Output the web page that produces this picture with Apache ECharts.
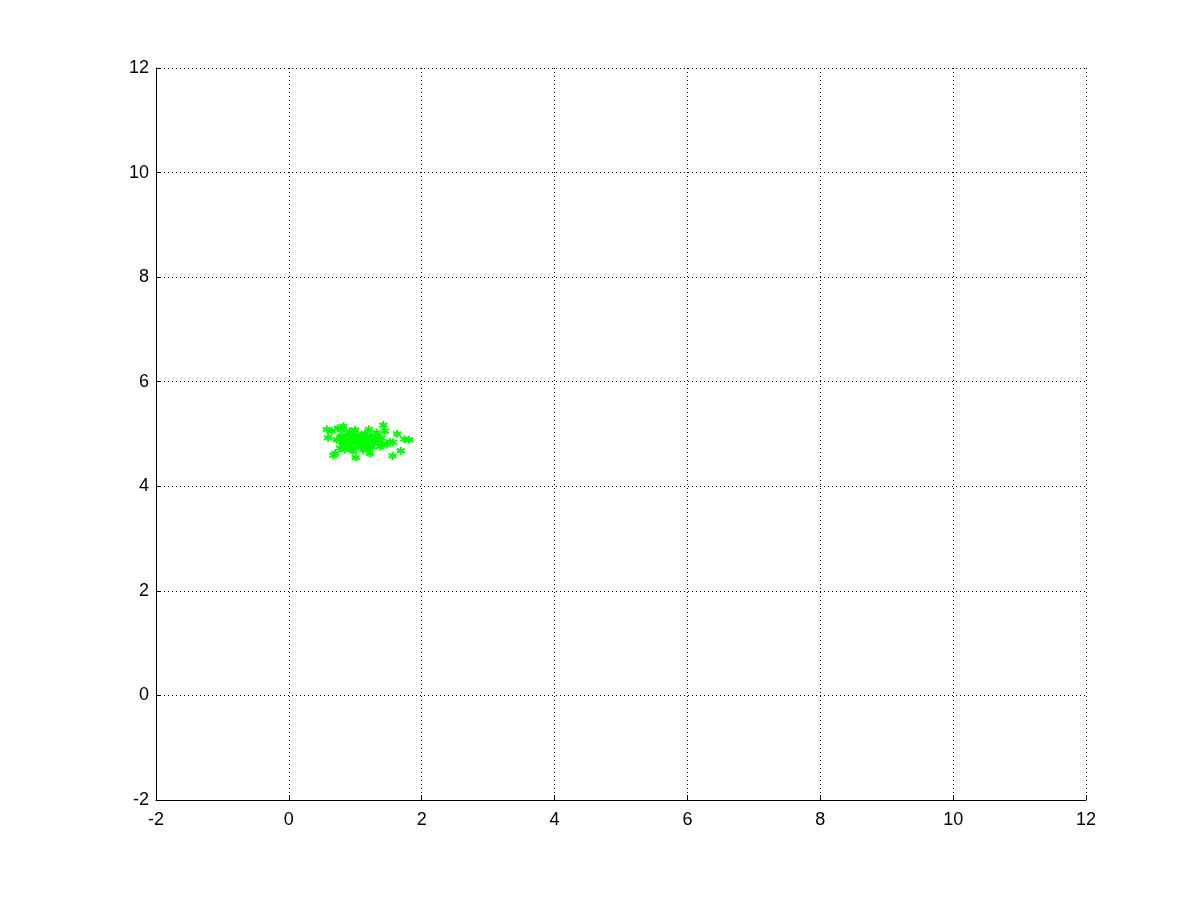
<!DOCTYPE html>
<html>
<head>
    <meta charset="utf-8"/>
    <title>ECharts</title>
    <script src="https://cdn.jsdelivr.net/npm/echarts@6/dist/echarts.min.js"></script>
</head>
<body style="margin:0;background:#fff">
<div id="main" style="width: 1200px; height: 900px;"></div>
<script type="text/javascript">
    // point coordinates
    var xs = [0.57, 0.645, 0.59, 0.735, 0.82, 0.795, 0.72, 0.67, 0.695, 0.77,
        0.87, 0.92, 0.995, 0.945, 0.895, 0.995, 1.005, 1.07, 1.095, 1.145,
        1.205, 1.12, 1.22, 1.195, 1.245, 1.32, 1.295, 1.37, 1.42, 1.445,
        1.395, 1.52, 1.57, 1.63, 1.685, 1.56, 1.74, 1.81,
        0.80, 0.85, 0.90, 0.96, 1.02, 1.08, 1.14, 1.18, 1.25, 1.30,
        0.83, 0.88, 0.93, 0.98, 1.04, 1.10, 1.16, 1.22, 1.28, 1.34,
        0.78, 0.86, 0.94, 1.00, 1.06, 1.12, 1.19, 1.26, 1.33, 1.40,
        0.92, 1.03, 1.15, 1.24, 0.84, 0.97, 1.09, 1.21, 1.35, 1.48];
    var ys = [5.09, 5.06, 4.93, 5.11, 5.15, 5.08, 4.89, 4.59, 4.63, 4.73,
        4.98, 5.05, 5.08, 4.89, 4.79, 4.73, 4.55, 4.95, 4.82, 5.01,
        5.09, 4.69, 4.63, 4.85, 4.76, 5.03, 4.89, 4.76, 5.17, 5.06,
        4.92, 4.85, 4.84, 5.00, 4.68, 4.58, 4.90, 4.89,
        4.85, 4.90, 4.95, 4.88, 4.92, 4.86, 4.91, 4.80, 4.83, 4.94,
        4.78, 4.82, 4.86, 4.97, 4.84, 4.89, 4.95, 4.90, 4.82, 4.87,
        4.96, 4.75, 4.70, 4.83, 4.78, 4.76, 4.72, 4.86, 4.98, 4.81,
        5.00, 4.99, 4.80, 4.96, 4.70, 4.68, 4.97, 4.74, 4.88, 4.80];
    var tickValues = [-2, 0, 2, 4, 6, 8, 10, 12];

    var points = xs.map(function (x, i) {
        return [x, ys[i]];
    });

    var myChart = echarts.init(document.getElementById("main"));

    var axisCommon = {
        type: 'value',
        min: tickValues[0],
        max: tickValues[tickValues.length - 1],
        interval: 2,
        axisLine: {show: true, onZero: false, lineStyle: {color: '#000', width: 1}},
        axisTick: {show: true, inside: true, length: 5, lineStyle: {color: '#000'}},
        splitLine: {
            show: true,
            lineStyle: {color: '#000', type: [1, 3], width: 1}
        }
    };

    var option = {
        backgroundColor: '#ffffff',
        animation: false,
        grid: {left: 156, right: 114, top: 68, bottom: 100, containLabel: false},
        xAxis: Object.assign({}, axisCommon, {
            axisLabel: {color: '#000', fontSize: 18, fontFamily: 'Liberation Sans', margin: 11}
        }),
        yAxis: Object.assign({}, axisCommon, {
            axisLabel: {color: '#000', fontSize: 18, fontFamily: 'Liberation Sans', margin: 7}
        }),
        series: [
            {
                type: 'scatter',
                data: points,
                symbol: 'path://M0,-5L0,5M-4.33,-2.5L4.33,2.5M-4.33,2.5L4.33,-2.5',
                symbolSize: 8,
                itemStyle: {
                    color: '#00ff00',
                    borderColor: '#00ff00',
                    borderWidth: 2,
                    opacity: 1
                }
            }
        ]
    };

    myChart.setOption(option);
</script>
</body>
</html>
